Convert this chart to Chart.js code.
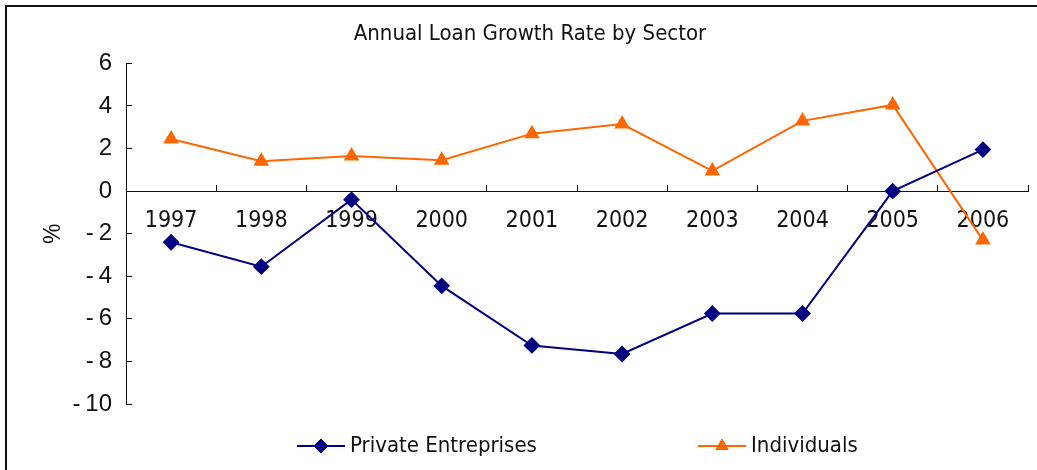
<!DOCTYPE html>
<html>
<head>
<meta charset="utf-8">
<script src="https://cdn.jsdelivr.net/npm/chart.js@4"></script>
<style>
  html, body { margin: 0; padding: 0; background: #fff; }
  canvas { display: block; }
</style>
</head>
<body>
<canvas id="loan-chart" width="1037" height="470"></canvas>
<script>
const years = ['1997', '1998', '1999', '2000', '2001', '2002', '2003', '2004', '2005', '2006'];
const privateEntreprises = [-2.4, -3.55, -0.4, -4.45, -7.25, -7.65, -5.75, -5.75, 0.0, 1.95];
const individuals = [2.45, 1.4, 1.65, 1.45, 2.7, 3.15, 0.95, 3.3, 4.05, -2.3];
const yTicks = [6, 4, 2, 0, -2, -4, -6, -8, -10];

const NARROW = '"Liberation Sans Narrow", "DejaVu Sans Condensed", sans-serif';
const REGULAR = '"Liberation Sans", Arial, sans-serif';
const NAVY = '#000080';
const ORANGE = '#ff6600';

// frame round the whole chart (only top and left edges show in the picture)
const framePlugin = {
    id: 'frame',
    beforeDraw(chart) {
        const ctx = chart.ctx;
        ctx.save();
        ctx.strokeStyle = '#111';
        ctx.lineWidth = 2;
        ctx.beginPath();
        ctx.moveTo(6, chart.height);
        ctx.lineTo(6, 6);
        ctx.lineTo(chart.width, 6);
        ctx.stroke();
        ctx.restore();
    }
};

// excel-like legend: line + marker, two items spread out below the plot
const legendPlugin = {
    id: 'lineLegend',
    afterDraw(chart) {
        const ctx = chart.ctx;
        const slots = [321, 722];
        const y = 446;
        ctx.save();
        chart.data.datasets.forEach((ds, i) => {
            const cx = slots[i];
            ctx.strokeStyle = ds.borderColor;
            ctx.lineWidth = 2;
            ctx.beginPath();
            ctx.moveTo(cx - 24, y);
            ctx.lineTo(cx + 24, y);
            ctx.stroke();
            ctx.fillStyle = ds.pointBackgroundColor;
            ctx.strokeStyle = ds.pointBorderColor;
            ctx.lineWidth = 1;
            Chart.helpers.drawPoint(ctx, {
                pointStyle: ds.pointStyle,
                radius: ds.pointRadius,
                borderWidth: 1
            }, cx, y);
            ctx.fillStyle = '#111';
            ctx.font = '22px ' + NARROW;
            ctx.textBaseline = 'middle';
            ctx.textAlign = 'left';
            ctx.fillText(ds.label, cx + 29, y);
        });
        ctx.restore();
    }
};

new Chart(document.getElementById('loan-chart'), {
    type: 'line',
    data: {
        labels: years,
        datasets: [
            {
                label: 'Private Entreprises',
                data: privateEntreprises,
                borderColor: NAVY,
                backgroundColor: NAVY,
                pointBackgroundColor: NAVY,
                pointBorderColor: NAVY,
                pointStyle: 'rectRot',
                pointRadius: 7,
                borderWidth: 2,
                tension: 0
            },
            {
                label: 'Individuals',
                data: individuals,
                borderColor: ORANGE,
                backgroundColor: ORANGE,
                pointBackgroundColor: ORANGE,
                pointBorderColor: ORANGE,
                pointStyle: 'triangle',
                pointRadius: 7,
                borderWidth: 2,
                tension: 0
            }
        ]
    },
    options: {
        responsive: false,
        devicePixelRatio: 1,
        animation: false,
        layout: { padding: { left: 31, right: 8, top: 0, bottom: 66 } },
        plugins: {
            legend: { display: false },
            tooltip: { enabled: false },
            title: {
                display: true,
                text: 'Annual Loan Growth Rate by Sector',
                color: '#111',
                font: { family: NARROW, size: 22, weight: 'normal' },
                padding: { top: 21, bottom: 16 }
            }
        },
        scales: {
            x: {
                position: { y: 0 },
                offset: true,
                grid: {
                    offset: true,
                    drawOnChartArea: false,
                    drawTicks: true,
                    tickLength: -7,
                    color: '#111'
                },
                border: { display: true, color: '#111', width: 1 },
                ticks: {
                    color: '#111',
                    padding: 23,
                    maxRotation: 0,
                    autoSkip: false,
                    font: { family: NARROW, size: 23 }
                }
            },
            y: {
                min: -10,
                max: 6,
                afterFit(scale) { scale.width = 95; },
                afterBuildTicks(scale) { scale.ticks = yTicks.map(v => ({ value: v })); },
                grid: {
                    drawOnChartArea: false,
                    drawTicks: true,
                    tickLength: -6,
                    color: '#111'
                },
                border: { display: true, color: '#111', width: 1 },
                ticks: {
                    color: '#111',
                    padding: 20,
                    font: { family: REGULAR, size: 24 },
                    callback: v => v < 0 ? '-\u2009' + Math.abs(v) : String(v)
                },
                title: {
                    display: true,
                    text: '%',
                    color: '#111',
                    font: { family: REGULAR, size: 23 },
                    padding: { top: 9, bottom: 0 }
                }
            }
        }
    },
    plugins: [framePlugin, legendPlugin]
});
</script>
</body>
</html>
